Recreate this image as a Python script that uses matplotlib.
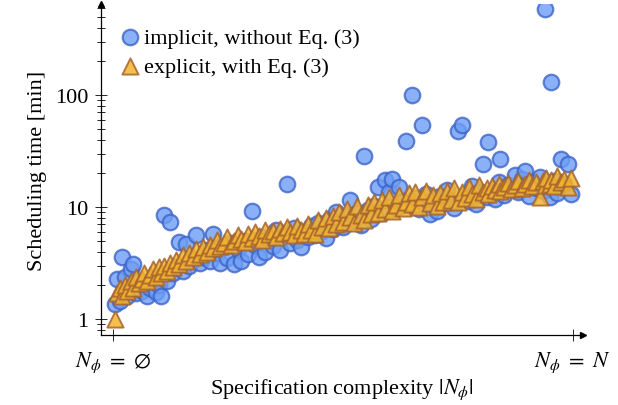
import matplotlib
matplotlib.use("Agg")
import matplotlib.pyplot as plt
from matplotlib.ticker import LogLocator, NullFormatter, FixedLocator
import numpy as np

plt.rcParams['font.family'] = ['Liberation Serif', 'DejaVu Serif']
plt.rcParams['mathtext.fontset'] = 'stix'

# specification complexity, in percent of N
complexity = [
    0.4, 0.9, 1.5, 2.1, 2.6, 3.2, 3.9, 4.4, 5.0, 5.7,
    6.3, 6.8, 7.5, 8.1, 8.8, 9.4, 10.0, 10.6, 11.1, 11.8,
    12.5, 13.2, 13.8, 14.5, 15.3, 16.0, 16.6, 17.4, 18.1, 18.9,
    19.6, 20.4, 21.1, 21.9, 22.6, 23.4, 24.1, 24.9, 25.7, 26.4,
    27.2, 28.0, 28.7, 29.5, 30.3, 30.9, 31.7, 32.5, 33.2, 34.0,
    34.8, 35.5, 36.3, 37.1, 37.8, 38.6, 39.4, 40.1, 40.9, 41.7,
    42.4, 43.2, 44.0, 44.7, 45.5, 46.3, 47.0, 47.8, 48.6, 49.3,
    50.1, 50.9, 51.6, 52.4, 53.2, 53.9, 54.6, 55.4, 56.2, 56.9,
    57.7, 58.5, 59.2, 60.0, 60.8, 61.5, 62.3, 63.1, 63.7, 64.5,
    65.0, 65.8, 66.6, 67.3, 68.1, 68.9, 69.6, 70.4, 71.2, 71.9,
    72.7, 73.5, 74.2, 75.0, 75.9, 76.7, 77.4, 78.2, 79.0, 79.7,
    80.5, 81.3, 81.7, 82.4, 83.2, 84.0, 84.3, 85.1, 85.9, 86.6,
    87.4, 88.2, 88.9, 89.7, 90.5, 91.2, 92.0, 92.8, 93.5, 93.9,
    94.3, 95.1, 95.4, 95.9, 96.6, 97.4, 98.2, 99.0, 99.6,
]

# scheduling time [min], implicit encoding (no Eq. 3)
implicit = [
    1.36, 2.3, 1.45, 3.6, 2.4, 1.6, 2.8, 3.1, 1.7, 1.9,
    1.8, 2.1, 1.6, 1.9, 2.3, 1.75, 2.0, 1.6, 8.5, 2.2,
    7.3, 2.6, 2.9, 4.9, 2.7, 4.7, 3.0, 3.4, 5.6, 3.2,
    3.6, 4.1, 3.3, 5.7, 3.9, 3.2, 4.4, 3.5, 4.8, 3.1,
    4.2, 3.3, 5.0, 3.8, 9.3, 4.6, 3.6, 5.4, 4.0, 5.2,
    4.5, 6.2, 4.1, 5.5, 16.0, 4.8, 6.5, 5.1, 4.4, 6.0,
    5.4, 6.8, 5.6, 7.2, 6.1, 5.3, 7.6, 6.4, 9.0, 7.1,
    6.7, 8.3, 11.5, 7.5, 8.8, 6.9, 28.6, 9.5, 7.9, 10.2,
    15.0, 8.9, 17.5, 13.6, 17.8, 9.8, 15.0, 11.2, 39.0, 10.4,
    100.0, 12.0, 9.6, 54.0, 13.1, 8.7, 11.6, 9.3, 12.6, 10.8,
    14.2, 11.0, 9.9, 48.0, 54.0, 12.8, 11.3, 15.5, 10.7, 13.7,
    24.0, 12.3, 38.0, 13.2, 11.8, 16.6, 27.0, 12.9, 15.8, 14.4,
    19.5, 13.5, 17.8, 21.0, 12.6, 16.9, 14.8, 18.5, 13.9, 590.0,
    15.6, 12.4, 130.0, 17.2, 13.4, 27.0, 16.1, 24.0, 13.1,
]

# scheduling time [min], explicit encoding (with Eq. 3)
explicit = [
    1.0, 1.7, 1.9, 1.6, 2.0, 1.8, 2.2, 1.9, 2.4, 2.1,
    2.3, 2.6, 2.2, 2.5, 2.8, 2.4, 2.9, 2.6, 3.0, 2.7,
    3.2, 2.9, 3.4, 3.1, 3.7, 3.3, 3.9, 3.6, 4.2, 3.8,
    4.4, 4.0, 4.6, 4.3, 5.1, 4.5, 4.8, 5.4, 4.6, 5.0,
    5.6, 5.2, 4.9, 5.8, 5.3, 6.0, 5.5, 5.1, 6.2, 5.7,
    6.1, 5.4, 6.4, 5.9, 6.6, 6.0, 5.6, 6.8, 6.3, 5.8,
    7.0, 6.2, 5.8, 7.6, 6.6, 8.0, 6.5, 8.4, 7.1, 9.0,
    7.4, 9.6, 8.2, 7.2, 10.2, 8.5, 7.6, 10.5, 8.7, 11.2,
    8.9, 11.6, 9.6, 12.4, 9.2, 10.5, 12.8, 9.8, 11.0, 13.3,
    10.6, 13.6, 10.1, 12.2, 14.0, 10.9, 12.8, 10.3, 13.3, 11.2,
    14.0, 11.6, 14.8, 11.2, 13.5, 12.0, 15.0, 13.0, 11.9, 15.8,
    13.6, 14.7, 13.1, 15.4, 14.1, 16.0, 13.8, 15.1, 16.4, 14.6,
    15.9, 17.0, 14.9, 16.2, 17.6, 15.3, 16.8, 12.3, 17.2, 15.7,
    18.0, 16.1, 17.4, 15.5, 18.8, 16.6, 17.9, 15.2, 18.3,
]

x = np.array(complexity) / 100.0

fig = plt.figure(figsize=(6.18, 4.06), dpi=100)
ax = fig.add_axes([0.163, 0.172, 0.78, 0.816])

ax.scatter(x, implicit, s=125, marker='o', facecolor='#6d9ef5', edgecolor='#3d64c9',
           linewidth=1.6, alpha=0.8, label='implicit, without Eq. (3)', zorder=2)
ax.scatter(x, explicit, s=135, marker='^', facecolor='#f2b42e', edgecolor='#a8642c',
           linewidth=1.4, alpha=0.85, label='explicit, with Eq. (3)', zorder=3)

ax.set_yscale('log')
ax.set_ylim(0.72, 650)
ax.set_xlim(-0.026, 1.022)

ax.yaxis.set_major_locator(FixedLocator([1, 10, 100]))
ax.set_yticklabels(['1', '10', '100'])
ax.yaxis.set_minor_locator(LogLocator(base=10, subs=np.arange(2, 10)))
ax.yaxis.set_minor_formatter(NullFormatter())
ax.set_xticks([0, 1])
ax.set_xticklabels([r'$N_\phi\ =\ \emptyset$', r'$N_\phi\ =\ N$'])

ax.tick_params(axis='both', which='major', direction='inout', length=8, width=0.6,
               labelsize=16, pad=5)
ax.tick_params(axis='y', which='minor', direction='inout', length=6, width=0.6)
ax.tick_params(axis='x', which='major', pad=6)

for side in ['top', 'right']:
    ax.spines[side].set_visible(False)
for side in ['left', 'bottom']:
    ax.spines[side].set_linewidth(0.9)

# arrow heads at the end of the axes
ax.plot(1, 0, '>k', transform=ax.transAxes, clip_on=False, markersize=5)
ax.plot(0, 1, '^k', transform=ax.transAxes, clip_on=False, markersize=5)

ax.set_ylabel('Scheduling time [min]', fontsize=16, labelpad=6)
ax.set_xlabel(r'Specification complexity $|N_\phi|$', fontsize=16, labelpad=2)

ax.legend(loc='upper left', bbox_to_anchor=(0.027, 0.943), frameon=False, fontsize=16,
          handletextpad=0.05, borderpad=0.2, labelspacing=0.38, handlelength=1.1,
          borderaxespad=0.0)

fig.savefig('out.png', dpi=100)
